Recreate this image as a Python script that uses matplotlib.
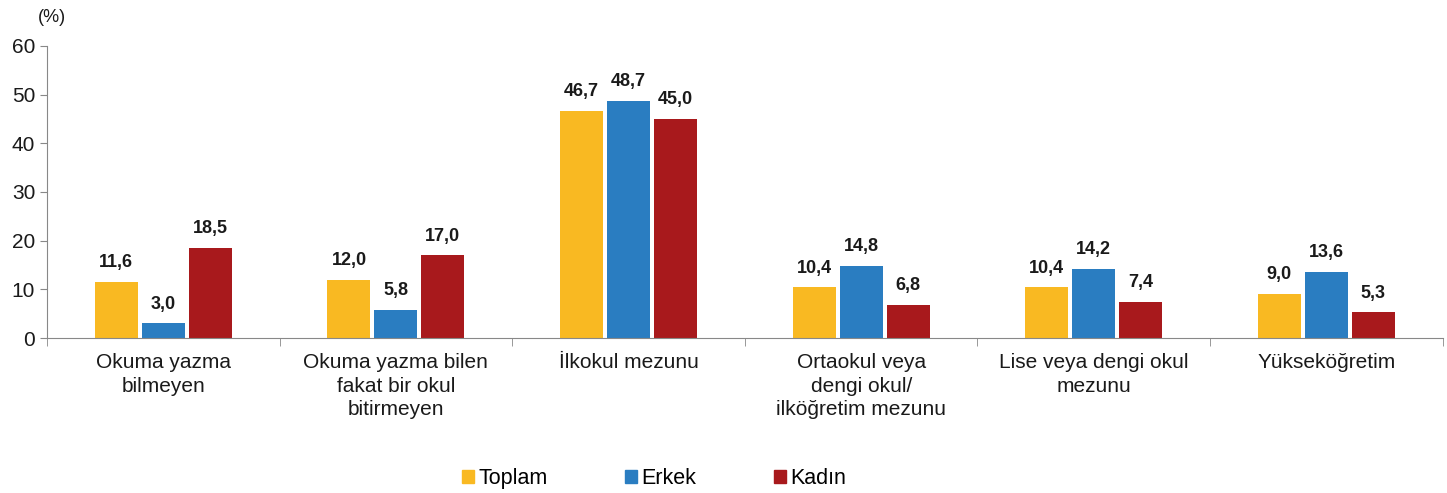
import numpy as np
import matplotlib
matplotlib.use("Agg")
from matplotlib import pyplot as plt
from matplotlib.patches import Patch

categories = ["Okuma yazma\nbilmeyen", "Okuma yazma bilen\nfakat bir okul\nbitirmeyen",
              "İlkokul mezunu", "Ortaokul veya\ndengi okul/\nilköğretim mezunu",
              "Lise veya dengi okul\nmezunu", "Yükseköğretim"]
toplam = [11.6, 12.0, 46.7, 10.4, 10.4, 9.0]
erkek = [3.0, 5.8, 48.7, 14.8, 14.2, 13.6]
kadin = [18.5, 17.0, 45.0, 6.8, 7.4, 5.3]
series = ["Toplam", "Erkek", "Kadın"]
colors = ["#F9B922", "#2A7DC1", "#A8191C"]

plt.rcParams['font.family'] = ['Liberation Sans', 'DejaVu Sans']

fig = plt.figure(figsize=(14.47, 4.93), dpi=100)
ax = fig.add_axes([0.0325, 0.3144, 0.9645, 0.5923])

x = np.arange(len(categories))
w = 0.185
gap = 0.017
for i, (vals, c) in enumerate(zip([toplam, erkek, kadin], colors)):
    pos = x + (i - 1) * (w + gap)
    ax.bar(pos, vals, width=w, color=c, zorder=2)
    for p, v in zip(pos, vals):
        ax.text(p, v + 2.2, f"{v:.1f}".replace(".", ","), ha='center', va='bottom',
                fontsize=13, fontweight='bold', color='#1a1a1a')

ax.set_xlim(-0.5, len(categories) - 0.5)
ax.set_ylim(0, 60)
ax.set_yticks(range(0, 61, 10))
ax.tick_params(axis='y', labelsize=15, colors='#1a1a1a', length=5, color='#888888')
ax.set_xticks(x)
ax.set_xticklabels(categories, fontsize=15, color='#1a1a1a', linespacing=1.3)
ax.tick_params(axis='x', length=0, pad=11)
ax.set_xticks(np.arange(-0.5, len(categories) + 0.5, 1), minor=True)
ax.tick_params(axis='x', which='minor', length=6, color='#888888')

for s in ['top', 'right']:
    ax.spines[s].set_visible(False)
ax.spines['left'].set_color('#888888')
ax.spines['bottom'].set_color('#888888')

fig.text(0.026, 0.955, "(%)", fontsize=13, color='#1a1a1a')

handles = [Patch(color=c, label=s) for s, c in zip(series, colors)]
fig.legend(handles=handles, loc='lower center', bbox_to_anchor=(0.452, -0.032), ncol=3,
           frameon=False, fontsize=15.5, handlelength=0.55, handleheight=0.55,
           handletextpad=0.2, columnspacing=3.6)

fig.savefig("out.png", dpi=100)
